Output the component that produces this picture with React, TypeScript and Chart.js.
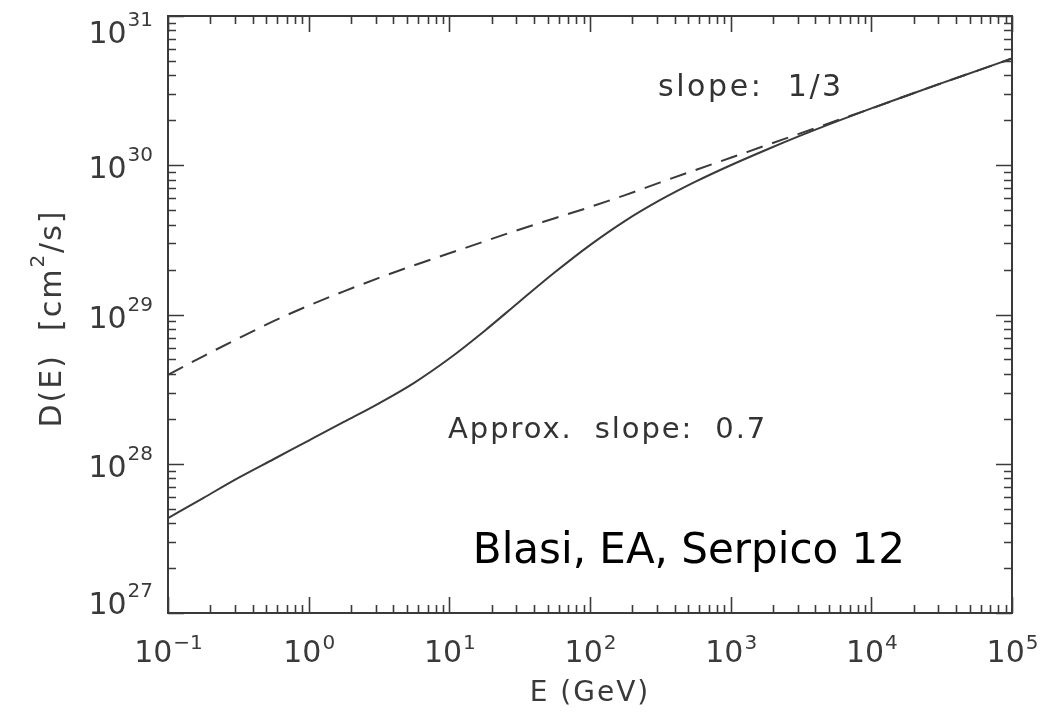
import React, { useEffect, useRef } from "react";
import { Chart, registerables } from "chart.js";

Chart.register(...registerables);

// Energy grid (GeV)
const energyGeV = [
  0.1, 0.1778, 0.3162, 0.5623, 1, 1.778, 3.162, 5.623, 10, 17.78, 31.62, 56.23,
  100, 177.8, 316.2, 562.3, 1000, 1778, 3162, 5623, 1e4, 1.778e4, 3.162e4, 5.623e4, 1e5,
];

// D(E) [cm^2/s] - solid curve (full model, approx. slope 0.7)
const diffSolid = [
  4.32e27, 5.89e27, 8.04e27, 1.072e28, 1.429e28, 1.905e28, 2.541e28, 3.487e28, 5.07e28,
  7.76e28, 1.223e29, 1.917e29, 2.917e29, 4.242e29, 5.854e29, 7.762e29, 1.0e30, 1.266e30,
  1.585e30, 1.961e30, 2.404e30, 2.924e30, 3.548e30, 4.29e30, 5.19e30,
];

// D(E) [cm^2/s] - dashed curve (slope 1/3)
const diffDashed = [
  3.936e28, 5.248e28, 6.918e28, 9.016e28, 1.148e29, 1.429e29, 1.758e29, 2.138e29, 2.57e29,
  3.09e29, 3.715e29, 4.416e29, 5.248e29, 6.31e29, 7.674e29, 9.29e29, 1.122e30, 1.358e30,
  1.641e30, 1.986e30, 2.399e30, 2.924e30, 3.548e30, 4.29e30, 5.19e30,
];

// Axis decades (exponents of ten)
const xTickExps = [-1, 0, 1, 2, 3, 4, 5];
const yTickExps = [27, 28, 29, 30, 31];

const xTitle = "E (GeV)";
const yTitleMain = "D(E)  [cm";
const yTitleSup = "2";
const yTitleTail = "/s]";

const annotations = [
  { text: "slope:  1/3", e: 304, d: 2.9e30, font: "30px 'DejaVu Sans'", color: "#333", spacing: "2.6px" },
  { text: "Approx.  slope:  0.7", e: 9.8, d: 1.48e28, font: "29px 'DejaVu Sans'", color: "#333", spacing: "1.9px" },
  { text: "Blasi, EA, Serpico 12", e: 14.7, d: 2.16e27, font: "42px 'DejaVu Sans'", color: "#000", spacing: "0px" },
];

const INK = "#3a3a3a";
const FONT = "'DejaVu Sans'";

const supText = (v: number) => (v < 0 ? "\u2212" + Math.abs(v) : String(v));

const framePlugin = {
  id: "idlFrame",
  afterDatasetsDraw(chart: any) {
    const { ctx, chartArea, scales } = chart;
    const { left, right, top, bottom } = chartArea;
    const xs = scales.x;
    const ys = scales.y;
    ctx.save();
    ctx.strokeStyle = INK;
    ctx.lineWidth = 2;
    ctx.strokeRect(left, top, right - left, bottom - top);

    // x ticks (bottom and top, inward)
    ctx.lineWidth = 1.6;
    for (const ex of xTickExps) {
      for (let m = 1; m < 10; m++) {
        const v = m * Math.pow(10, ex);
        if (v > xs.max * 1.0001) break;
        const px = Math.round(xs.getPixelForValue(v)) + 0.5;
        const len = m === 1 ? 16 : 8;
        ctx.beginPath();
        ctx.moveTo(px, bottom);
        ctx.lineTo(px, bottom - len);
        ctx.moveTo(px, top);
        ctx.lineTo(px, top + len);
        ctx.stroke();
      }
    }
    // y ticks (left and right, inward)
    for (const ex of yTickExps) {
      for (let m = 1; m < 10; m++) {
        const v = m * Math.pow(10, ex);
        if (v > ys.max * 1.0001) break;
        const py = Math.round(ys.getPixelForValue(v)) + 0.5;
        const len = m === 1 ? 16 : 8;
        ctx.beginPath();
        ctx.moveTo(left, py);
        ctx.lineTo(left + len, py);
        ctx.moveTo(right, py);
        ctx.lineTo(right - len, py);
        ctx.stroke();
      }
    }

    ctx.fillStyle = INK;
    ctx.textBaseline = "alphabetic";
    ctx.textAlign = "left";
    const bigFont = `30px ${FONT}`;
    const supFont = `20px ${FONT}`;

    // x tick labels
    for (const ex of xTickExps) {
      const px = xs.getPixelForValue(Math.pow(10, ex));
      ctx.font = bigFont;
      const w1 = ctx.measureText("10").width;
      ctx.font = supFont;
      const s = supText(ex);
      const w2 = ctx.measureText(s).width;
      const x0 = px - (w1 + w2) / 2;
      const base = bottom + 49;
      ctx.font = bigFont;
      ctx.fillText("10", x0, base);
      ctx.font = supFont;
      ctx.fillText(s, x0 + w1 + 1, base - 13);
    }

    // y tick labels
    for (const ex of yTickExps) {
      const py = ys.getPixelForValue(Math.pow(10, ex));
      const cy = Math.min(Math.max(py + 2, top + 16), bottom - 10);
      ctx.font = supFont;
      const s = supText(ex);
      const w2 = ctx.measureText(s).width;
      ctx.font = bigFont;
      const w1 = ctx.measureText("10").width;
      const xr = left - 15;
      const base = cy + 11;
      ctx.font = bigFont;
      ctx.fillText("10", xr - w2 - w1 - 1, base);
      ctx.font = supFont;
      ctx.fillText(s, xr - w2, base - 17);
    }

    // x title
    ctx.font = `28px ${FONT}`;
    (ctx as any).letterSpacing = "2px";
    ctx.textAlign = "center";
    ctx.fillText(xTitle, (left + right) / 2, bottom + 88);

    // y title (rotated)
    ctx.save();
    ctx.translate(left - 107, (top + bottom) / 2 + 4);
    ctx.rotate(-Math.PI / 2);
    ctx.textAlign = "left";
    ctx.font = `30px ${FONT}`;
    const a = ctx.measureText(yTitleMain).width;
    const c = ctx.measureText(yTitleTail).width;
    ctx.font = supFont;
    const b = ctx.measureText(yTitleSup).width;
    const x0 = -(a + b + c) / 2;
    ctx.font = `30px ${FONT}`;
    ctx.fillText(yTitleMain, x0, 0);
    ctx.font = supFont;
    ctx.fillText(yTitleSup, x0 + a, -17);
    ctx.font = `30px ${FONT}`;
    ctx.fillText(yTitleTail, x0 + a + b, 0);
    ctx.restore();

    // annotations
    ctx.textAlign = "left";
    for (const an of annotations) {
      ctx.font = an.font;
      ctx.fillStyle = an.color;
      (ctx as any).letterSpacing = an.spacing;
      ctx.fillText(an.text, xs.getPixelForValue(an.e), ys.getPixelForValue(an.d));
    }
    (ctx as any).letterSpacing = "0px";
    ctx.restore();
  },
};

export default function App() {
  const ref = useRef<HTMLCanvasElement | null>(null);
  useEffect(() => {
    if (!ref.current) return;
    const chart = new Chart(ref.current, {
      type: "line",
      data: {
        datasets: [
          {
            data: energyGeV.map((e, i) => ({ x: e, y: diffSolid[i] })),
            borderColor: INK,
            borderWidth: 2,
            pointRadius: 0,
            fill: false,
            cubicInterpolationMode: "monotone",
          },
          {
            data: energyGeV.map((e, i) => ({ x: e, y: diffDashed[i] })),
            borderColor: INK,
            borderWidth: 2,
            borderDash: [17, 10],
            pointRadius: 0,
            fill: false,
            cubicInterpolationMode: "monotone",
          },
        ],
      },
      options: {
        animation: false,
        responsive: false,
        layout: { padding: { left: 168, right: 32, top: 16, bottom: 104 } },
        plugins: { legend: { display: false }, tooltip: { enabled: false } },
        scales: {
          x: { type: "logarithmic", min: 0.1, max: 1e5, display: false },
          y: { type: "logarithmic", min: 1e27, max: 1e31, display: false },
        },
      },
      plugins: [framePlugin],
    } as any);
    return () => chart.destroy();
  }, []);
  return (
    <div style={{ position: "fixed", left: 0, top: 0, width: 1044, height: 717, background: "#fff" }}>
      <canvas ref={ref} width={1044} height={717} />
    </div>
  );
}
